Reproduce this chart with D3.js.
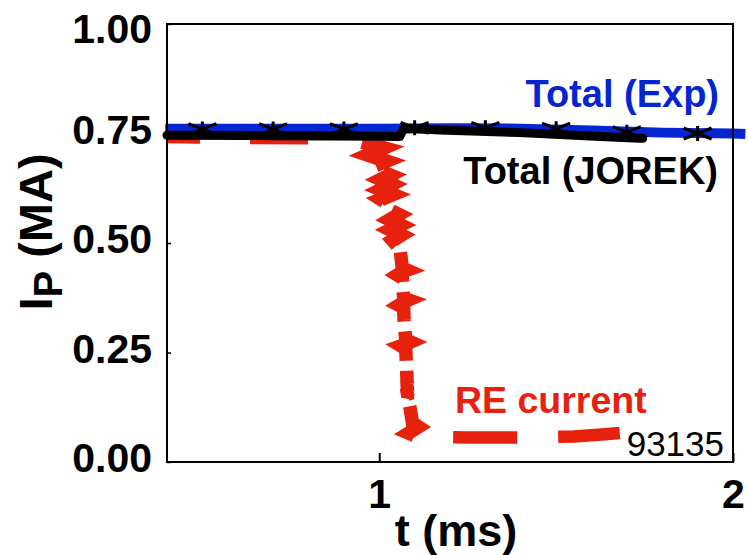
<!DOCTYPE html>
<html>
<head>
<meta charset="utf-8">
<script src="https://cdn.jsdelivr.net/npm/d3@7"></script>
<style>
  html, body { margin: 0; padding: 0; background: #fff; }
  svg { display: block; }
  text { font-family: "Liberation Sans", Arial, Helvetica, sans-serif; }
</style>
</head>
<body>
<svg id="chart" width="748" height="555"></svg>
<script>
// Plasma current in shot 93135: measured total, JOREK total and runaway-electron current

// Measured total current (MA) vs time (ms)
const expTime    = [0.395, 0.60, 0.80, 1.00, 1.20, 1.40, 1.60, 1.80, 2.00, 2.035];
const expCurrent = [0.761, 0.761, 0.761, 0.761, 0.762, 0.761, 0.757, 0.752, 0.750, 0.749];

// Sampled measurement points shown with asterisks
const expMarkTime    = [0.5, 0.7, 0.9, 1.1, 1.3, 1.5, 1.7, 1.9];
const expMarkCurrent = [0.760, 0.760, 0.760, 0.763, 0.763, 0.761, 0.753, 0.750];

// JOREK total current
const jorekTime    = [0.400, 0.700, 1.000, 1.058, 1.068, 1.085, 1.170, 1.396, 1.624, 1.737, 1.745];
const jorekCurrent = [0.746, 0.745, 0.744, 0.743, 0.760, 0.762, 0.758, 0.752, 0.743, 0.739, 0.739];

// Runaway-electron current (noisy through the quench)
const reTime = [
  0.400, 0.600, 0.800, 0.940,
  0.951, 1.013, 0.968, 1.019, 0.985, 1.002, 1.030, 1.005, 1.035, 1.005, 1.038,
  1.005, 1.025, 1.030, 1.055, 1.030, 1.060, 1.032, 1.062, 1.038, 1.050,
  1.060, 1.065, 1.079, 1.065, 1.051, 1.065, 1.069, 1.083, 1.069, 1.055, 1.069,
  1.070, 1.075, 1.089, 1.075, 1.061, 1.075, 1.079, 1.093, 1.079, 1.080, 1.094,
  1.080, 1.088, 1.094, 1.111, 1.097, 1.083, 1.110,
  1.250, 1.400, 1.550, 1.620, 1.680
];
const reCurrent = [
  0.742, 0.740, 0.739, 0.737,
  0.731, 0.717, 0.701, 0.687, 0.676, 0.664, 0.655, 0.645, 0.634, 0.622, 0.611,
  0.600, 0.590, 0.575, 0.565, 0.553, 0.541, 0.530, 0.518, 0.506, 0.495,
  0.479, 0.443, 0.438, 0.434, 0.427, 0.420, 0.374, 0.370, 0.365, 0.358, 0.352,
  0.326, 0.279, 0.274, 0.269, 0.265, 0.258, 0.178, 0.176, 0.174, 0.160, 0.158,
  0.155, 0.119, 0.089, 0.080, 0.073, 0.066, 0.057,
  0.056, 0.056, 0.058, 0.062, 0.066
];

// Axis ticks
const xTicks = [1, 2];
const xTickLabels = ["1", "2"];
const yTicks = [0, 0.25, 0.5, 0.75, 1.0];
const yTickLabels = ["0.00", "0.25", "0.50", "0.75", "1.00"];

// ---------------------------------------------------------------
const BLUE = "#0524d2", RED = "#e8210f", BLACK = "#000";
const svg = d3.select("#chart");
const plot = { left: 167, right: 733, top: 24, bottom: 462 };

const x = d3.scaleLinear().domain([0.4, 2]).range([plot.left, plot.right]);
const y = d3.scaleLinear().domain([0, 1]).range([plot.bottom, plot.top]);

const line = d3.line().x(d => x(d[0])).y(d => y(d[1]));
const zip = (a, b) => a.map((v, i) => [v, b[i]]);

// Measured total
svg.append("path")
  .datum(zip(expTime, expCurrent))
  .attr("d", line)
  .attr("fill", "none")
  .attr("stroke", BLUE)
  .attr("stroke-width", 10);

// RE current: thick dashed line, dash rhythm differs along the trace
const reData = zip(reTime, reCurrent);
const reStretches = [
  { from: 0,  to: 3,  dash: "58,50", offset: 25, width: 12.5 },
  { from: 3,  to: 24, dash: "70,13", offset: 78, width: 14 },
  { from: 24, to: 53, dash: "42,10", offset: 44, width: 13.5 },
  { from: 53, to: 58, dash: "64,41", offset: 70, width: 12.5 }
];
reStretches.forEach(s => {
  svg.append("path")
    .datum(reData.slice(s.from, s.to + 1))
    .attr("d", line)
    .attr("fill", "none")
    .attr("stroke", RED)
    .attr("stroke-width", s.width)
    .attr("stroke-linejoin", "miter")
    .attr("stroke-miterlimit", 4)
    .attr("stroke-linecap", "butt")
    .attr("stroke-dasharray", s.dash)
    .attr("stroke-dashoffset", s.offset);
});

// JOREK total
svg.append("path")
  .datum(zip(jorekTime, jorekCurrent))
  .attr("d", line)
  .attr("fill", "none")
  .attr("stroke", BLACK)
  .attr("stroke-width", 9)
  .attr("stroke-linecap", "round")
  .attr("stroke-linejoin", "round");

// Asterisk markers on the measured trace
const star = "M-14,-5.5L14,5.5M-14,5.5L14,-5.5M0,-7.5L0,7.5";
svg.append("g")
  .selectAll("path")
  .data(zip(expMarkTime, expMarkCurrent))
  .join("path")
  .attr("transform", d => `translate(${x(d[0])},${y(d[1])})`)
  .attr("d", star)
  .attr("fill", "none")
  .attr("stroke", BLACK)
  .attr("stroke-width", 3);

// Plot frame
svg.append("rect")
  .attr("x", plot.left).attr("y", plot.top)
  .attr("width", plot.right - plot.left)
  .attr("height", plot.bottom - plot.top)
  .attr("fill", "none")
  .attr("stroke", BLACK)
  .attr("stroke-width", 2);

// X axis (inward ticks)
const xAxis = svg.append("g")
  .attr("transform", `translate(0,${plot.bottom})`)
  .call(d3.axisBottom(x).tickValues(xTicks)
    .tickFormat((d, i) => xTickLabels[i])
    .tickSizeInner(-9).tickSizeOuter(0).tickPadding(17));
xAxis.select(".domain").remove();
xAxis.selectAll(".tick line").attr("stroke", BLACK).attr("stroke-width", 2);
xAxis.selectAll(".tick text")
  .attr("font-family", '"Liberation Sans", Arial, sans-serif')
  .attr("font-size", 41).attr("font-weight", "bold").attr("fill", BLACK);

// Y axis (inward ticks)
const yAxis = svg.append("g")
  .attr("transform", `translate(${plot.left},0)`)
  .call(d3.axisLeft(y).tickValues(yTicks)
    .tickFormat((d, i) => yTickLabels[i])
    .tickSizeInner(-4).tickSizeOuter(0).tickPadding(15));
yAxis.select(".domain").remove();
yAxis.selectAll(".tick line").attr("stroke", BLACK).attr("stroke-width", 1.5);
yAxis.selectAll(".tick text")
  .attr("font-family", '"Liberation Sans", Arial, sans-serif')
  .attr("font-size", 41).attr("font-weight", "bold").attr("fill", BLACK)
  .attr("dy", null)
  .attr("y", d => Math.max(9.5, 42 - y(d)));

// Axis titles
svg.append("text")
  .attr("x", 456).attr("y", 546)
  .attr("text-anchor", "middle")
  .attr("font-size", 45).attr("font-weight", "bold")
  .text("t (ms)");

const yTitle = svg.append("text")
  .attr("transform", "translate(52,232) rotate(-90)")
  .attr("text-anchor", "middle")
  .attr("font-size", 47).attr("font-weight", "bold");
yTitle.append("tspan").text("I");
yTitle.append("tspan").attr("font-size", 40).attr("dy", 10).text("P");
yTitle.append("tspan").attr("dy", -10).text(" (MA)");

// Series labels
svg.append("text")
  .attr("x", 719).attr("y", 107)
  .attr("text-anchor", "end")
  .attr("font-size", 38).attr("font-weight", "bold")
  .attr("fill", BLUE)
  .text("Total (Exp)");

svg.append("text")
  .attr("x", 718).attr("y", 184)
  .attr("text-anchor", "end")
  .attr("font-size", 38).attr("font-weight", "bold")
  .attr("fill", BLACK)
  .text("Total (JOREK)");

svg.append("text")
  .attr("x", 455).attr("y", 413)
  .attr("font-size", 37.5).attr("font-weight", "bold")
  .attr("fill", RED)
  .text("RE current");

svg.append("text")
  .attr("x", 724).attr("y", 456)
  .attr("text-anchor", "end")
  .attr("font-size", 35)
  .attr("fill", BLACK)
  .text("93135");
</script>
</body>
</html>
